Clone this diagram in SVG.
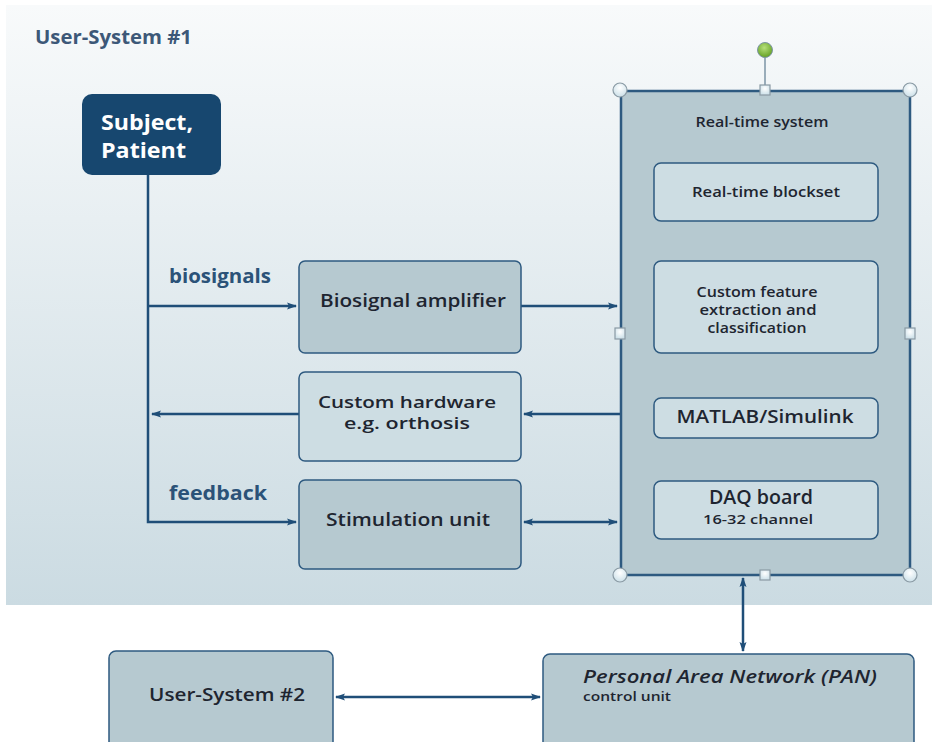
<svg xmlns="http://www.w3.org/2000/svg" width="932" height="742" viewBox="0 0 932 742">
<defs>
<linearGradient id="bg" x1="0" y1="0" x2="0" y2="1">
<stop offset="0" stop-color="#f8fafb"/>
<stop offset="1" stop-color="#cbdbe2"/>
</linearGradient>
<radialGradient id="hnd" cx="0.5" cy="0.35" r="0.6">
<stop offset="0" stop-color="#ffffff"/>
<stop offset="1" stop-color="#cfe2ea"/>
</radialGradient>
<radialGradient id="grn" cx="0.45" cy="0.35" r="0.6">
<stop offset="0" stop-color="#b6e07a"/>
<stop offset="1" stop-color="#6aa52a"/>
</radialGradient>
<marker id="ah" viewBox="0 0 10 10" refX="9" refY="5" markerWidth="10" markerHeight="10" markerUnits="userSpaceOnUse" orient="auto-start-reverse">
<path d="M0,1.5 L10,5 L0,8.5 L2,5 Z" fill="#1f4e78"/>
</marker>
</defs>
<style>
text{font-family:"Open Sans","Noto Sans","DejaVu Sans",sans-serif}
.box{fill:#b6c9d0;stroke:#2e5a80;stroke-width:1.5}
.lbox{fill:#cddde3;stroke:#2e5a80;stroke-width:1.5}
.t{fill:#1e2530;text-anchor:middle;font-weight:600}
.lab{fill:#2b5278;font-weight:bold;font-size:19px}
.ln{stroke:#1f4e78;stroke-width:2.5;fill:none}
.h{fill:url(#hnd);stroke:#8a9aa4;stroke-width:1.2}
</style>
<rect x="6" y="5" width="926" height="600" fill="url(#bg)"/>
<text x="35" y="44" font-size="19" font-weight="bold" fill="#3d5878" textLength="157" lengthAdjust="spacingAndGlyphs">User-System #1</text>

<g id="connectors">
<path class="ln" d="M148,175 V522 H296" marker-end="url(#ah)"/>
<path class="ln" d="M148,306 H296" marker-end="url(#ah)"/>
<path class="ln" d="M299,414 H152" marker-end="url(#ah)"/>
<path class="ln" d="M521,306 H617" marker-end="url(#ah)"/>
<path class="ln" d="M620,414 H524" marker-end="url(#ah)"/>
<path class="ln" d="M524,522 H617" marker-start="url(#ah)" marker-end="url(#ah)"/>
<path class="ln" d="M743,578 V651" marker-start="url(#ah)" marker-end="url(#ah)"/>
<path class="ln" d="M336,697 H540" marker-start="url(#ah)" marker-end="url(#ah)"/>
</g>
<text class="lab" x="169" y="283" textLength="102" lengthAdjust="spacingAndGlyphs">biosignals</text>
<text class="lab" x="169" y="500" textLength="98" lengthAdjust="spacingAndGlyphs">feedback</text>

<g id="subject">
<rect x="82" y="94" width="139" height="81" rx="10" fill="#17476f"/>
<text x="101" y="130" font-size="21.5" font-weight="bold" fill="#ffffff" textLength="92" lengthAdjust="spacingAndGlyphs">Subject,</text>
<text x="101" y="158" font-size="21.5" font-weight="bold" fill="#ffffff" textLength="85" lengthAdjust="spacingAndGlyphs">Patient</text>
</g>

<g id="biosignal-amplifier">
<rect class="box" x="299" y="261" width="222" height="92" rx="6"/>
<text class="t" x="413" y="307" font-size="18.5" textLength="186" lengthAdjust="spacingAndGlyphs">Biosignal amplifier</text>
</g>

<g id="custom-hardware">
<rect class="lbox" x="299" y="372" width="222" height="89" rx="6"/>
<text class="t" x="407" y="408" font-size="17" textLength="178" lengthAdjust="spacingAndGlyphs">Custom hardware</text>
<text class="t" x="407" y="429" font-size="17" textLength="126" lengthAdjust="spacingAndGlyphs">e.g. orthosis</text>
</g>

<g id="stimulation-unit">
<rect class="box" x="299" y="480" width="222" height="89" rx="6"/>
<text class="t" x="408" y="526" font-size="18.5" textLength="164" lengthAdjust="spacingAndGlyphs">Stimulation unit</text>
</g>

<g id="real-time-system">
<line x1="765" y1="57" x2="765" y2="88" stroke="#7d95a6" stroke-width="1.5"/>
<rect x="621" y="91" width="289" height="484" fill="#b6c9d0" stroke="#2e5a80" stroke-width="2.5"/>
<text class="t" x="762" y="127" font-size="13.5" textLength="133" lengthAdjust="spacingAndGlyphs">Real-time system</text>
<circle cx="765" cy="50" r="7.5" fill="url(#grn)" stroke="#7d95a6" stroke-width="1"/>
<circle class="h" cx="620" cy="90" r="7"/>
<circle class="h" cx="910" cy="90" r="7"/>
<circle class="h" cx="620" cy="575" r="7"/>
<circle class="h" cx="910" cy="575" r="7"/>
<rect class="h" x="760" y="85" width="10" height="10"/>
<rect class="h" x="615" y="328" width="10" height="11"/>
<rect class="h" x="905" y="328" width="10" height="11"/>
<rect class="h" x="760" y="570" width="10" height="10"/>
</g>

<g id="real-time-blockset">
<rect class="lbox" x="654" y="163" width="224" height="58" rx="7"/>
<text class="t" x="766" y="197" font-size="14.5" textLength="148" lengthAdjust="spacingAndGlyphs">Real-time blockset</text>
</g>

<g id="custom-feature">
<rect class="lbox" x="654" y="261" width="224" height="92" rx="7"/>
<text class="t" x="757" y="297" font-size="14.5" textLength="121" lengthAdjust="spacingAndGlyphs">Custom feature</text>
<text class="t" x="758" y="315" font-size="14.5" textLength="117" lengthAdjust="spacingAndGlyphs">extraction  and</text>
<text class="t" x="757" y="333" font-size="14.5" textLength="99" lengthAdjust="spacingAndGlyphs">classification</text>
</g>

<g id="matlab-simulink">
<rect class="lbox" x="654" y="398" width="224" height="40" rx="7"/>
<text class="t" x="765" y="423" font-size="18.5" textLength="177" lengthAdjust="spacingAndGlyphs">MATLAB/Simulink</text>
</g>

<g id="daq-board">
<rect class="lbox" x="654" y="481" width="224" height="58" rx="7"/>
<text class="t" x="761" y="504" font-size="19" textLength="104" lengthAdjust="spacingAndGlyphs">DAQ board</text>
<text class="t" x="758" y="524" font-size="12.5" textLength="110" lengthAdjust="spacingAndGlyphs">16-32   channel</text>
</g>

<g id="user-system-2">
<rect class="box" x="109" y="651" width="224" height="100" rx="7"/>
<text class="t" x="227" y="701" font-size="18.5" textLength="156" lengthAdjust="spacingAndGlyphs">User-System #2</text>
</g>

<g id="pan">
<rect class="box" x="543" y="654" width="371" height="97" rx="7"/>
<text x="583" y="683" font-size="18.5" font-style="italic" font-weight="600" fill="#1e2530" textLength="294" lengthAdjust="spacingAndGlyphs">Personal Area Network (PAN)</text>
<text x="583" y="701" font-size="12.5" fill="#1e2530" font-weight="600" textLength="88" lengthAdjust="spacingAndGlyphs">control unit</text>
</g>
</svg>
